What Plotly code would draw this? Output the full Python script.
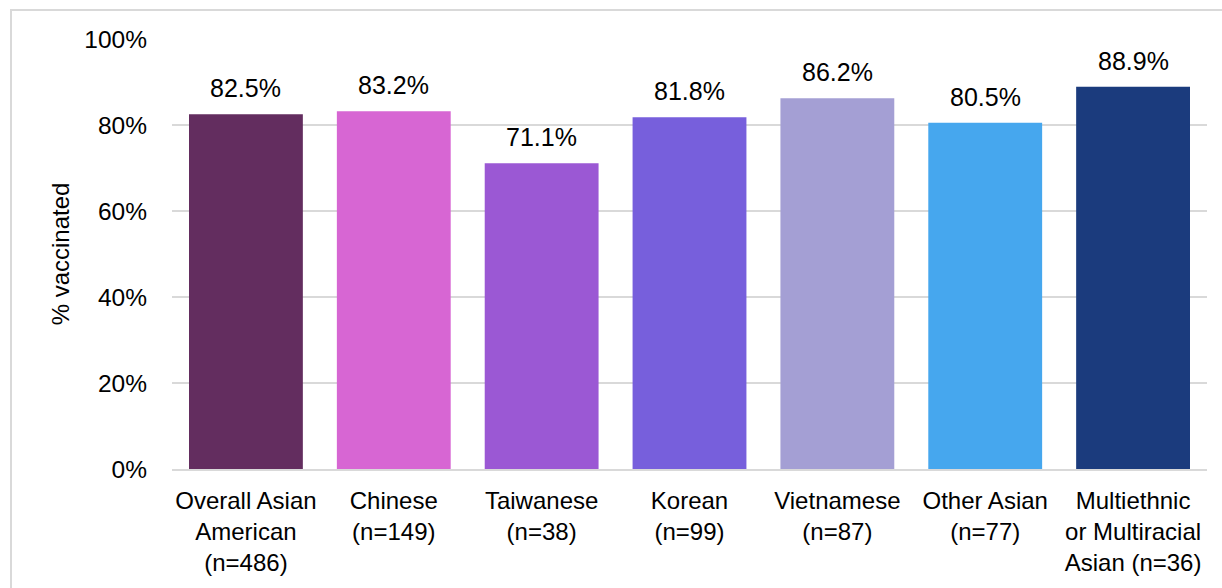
import plotly.graph_objects as go

categories = ["Overall Asian<br>American<br>(n=486)", "Chinese<br>(n=149)", "Taiwanese<br>(n=38)",
              "Korean<br>(n=99)", "Vietnamese<br>(n=87)", "Other Asian<br>(n=77)",
              "Multiethnic<br>or Multiracial<br>Asian (n=36)"]
values = [82.5, 83.2, 71.1, 81.8, 86.2, 80.5, 88.9]
colors = ["#632D5F", "#D766D3", "#9B58D4", "#775FDC", "#A49FD4", "#46A7EE", "#1B3B7D"]
yticks = [0, 20, 40, 60, 80, 100]
ytick_labels = ["0%", "20%", "40%", "60%", "80%", "100%"]

FONT = "Liberation Sans, Arial, sans-serif"

fig = go.Figure()
fig.add_trace(go.Bar(x=categories, y=values, marker=dict(color=colors, line=dict(width=0)),
                     hoverinfo="skip"))

for c, v in zip(categories, values):
    fig.add_annotation(x=c, y=v, text=f"{v:.1f}%", showarrow=False, yanchor="bottom",
                       yshift=10, font=dict(family=FONT, size=25, color="#000000"))

fig.update_layout(
    width=1222, height=588,
    margin=dict(l=172, r=15, t=39, b=119),
    paper_bgcolor="white", plot_bgcolor="white",
    bargap=0.23,
    showlegend=False,
    font=dict(family=FONT, size=24.5, color="#000000"),
    xaxis=dict(showgrid=False, showline=True, linecolor="#D9D9D9", linewidth=2,
               ticks="", tickfont=dict(family=FONT, size=24), ticklabelstandoff=9,
               automargin=False),
    yaxis=dict(range=[0, 100], tickvals=yticks, ticktext=ytick_labels,
               showgrid=True, gridcolor="#D9D9D9", gridwidth=2, zeroline=False,
               showline=False, ticks="", tickfont=dict(family=FONT, size=24.5),
               ticklabelstandoff=24, automargin=False,
               title=dict(text="% vaccinated", font=dict(family=FONT, size=24), standoff=7)),
)

# outer frame
fig.add_shape(type="rect", xref="paper", yref="paper",
              x0=(11 - 172) / 1035, x1=1.2, y0=-0.6, y1=1 + (39 - 10) / 430,
              line=dict(color="#D9D9D9", width=2), fillcolor="rgba(0,0,0,0)", layer="below")

fig.write_html("out.html", config={"displayModeBar": False},
               post_script="document.body.style.margin='0px';")
